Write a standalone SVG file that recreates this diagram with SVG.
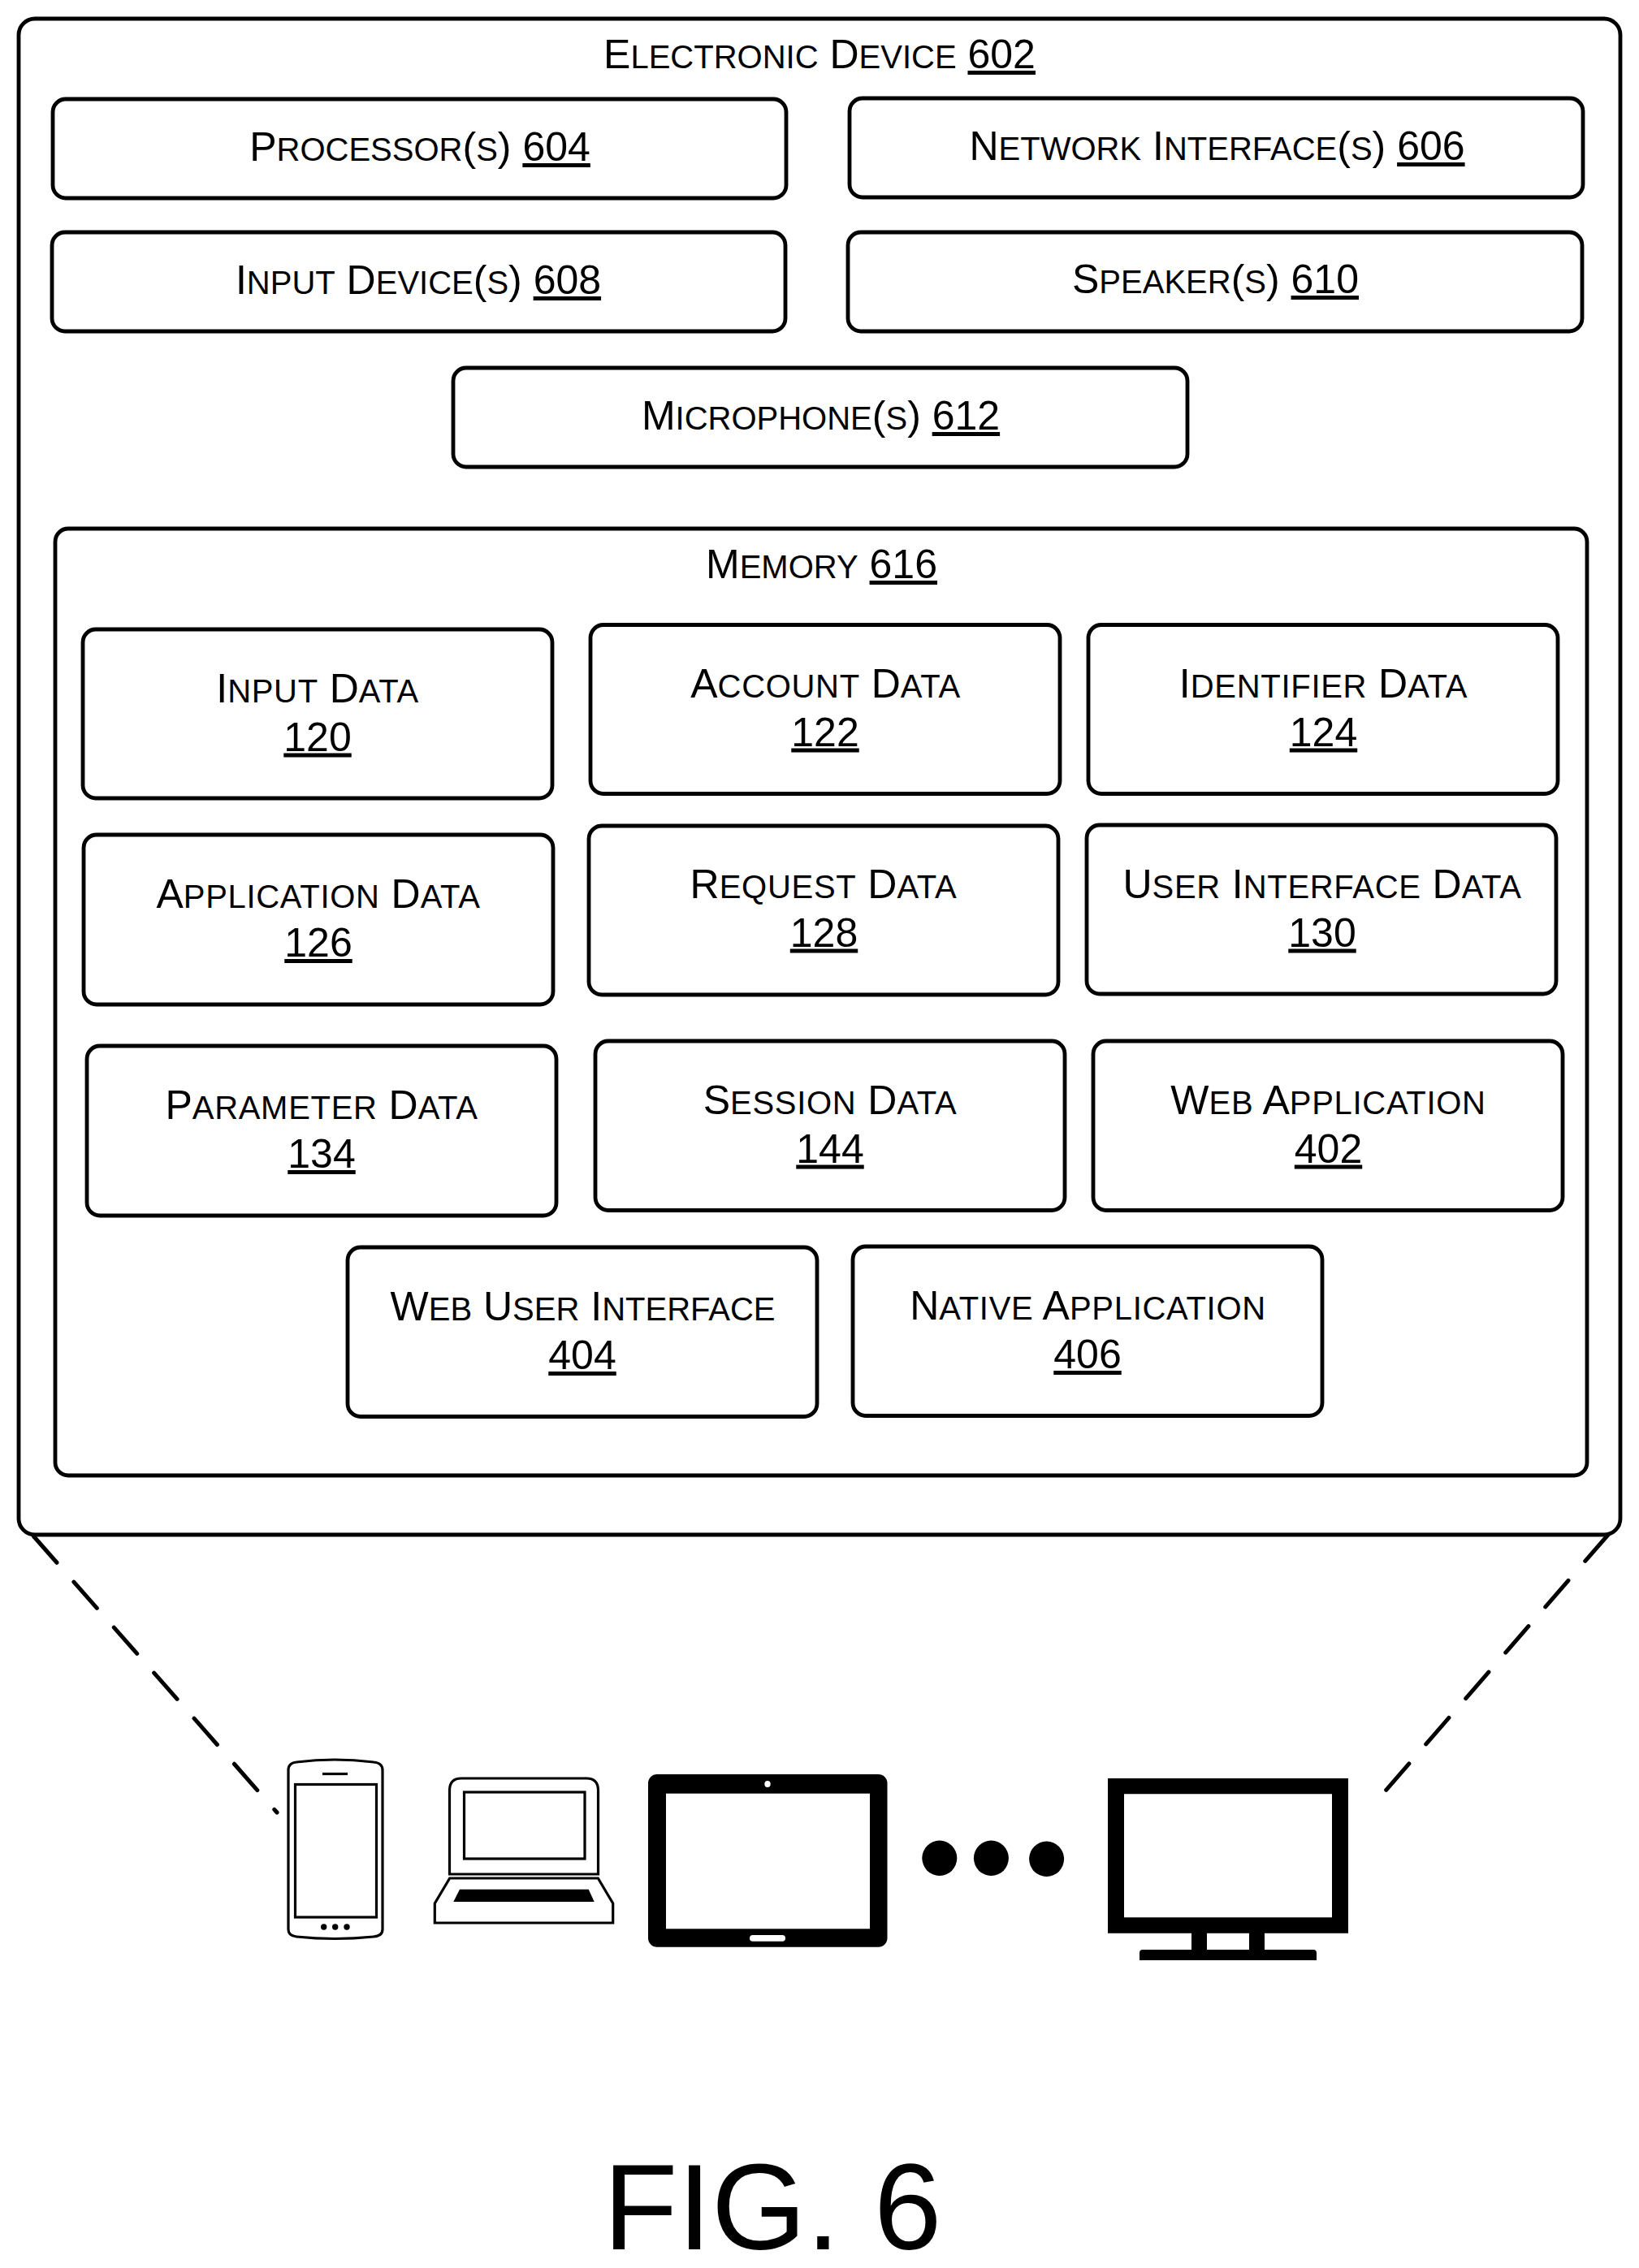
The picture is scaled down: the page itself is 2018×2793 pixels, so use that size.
<svg xmlns="http://www.w3.org/2000/svg" width="2018" height="2793" viewBox="0 0 2018 2793">
<style>
.b{fill:#fff;stroke:#000;stroke-width:4.8}
.l{fill:none;stroke:#000;stroke-width:3.2}
.k{fill:#000}
.w{fill:#fff}
text{font-family:"Liberation Sans",Arial,sans-serif;font-size:50px;fill:#000;text-anchor:middle}
.s{font-size:40px}
.t{font-size:40px;letter-spacing:.7px}
.u{text-decoration:underline}
.d{fill:none;stroke:#000;stroke-width:5;stroke-linecap:round;stroke-dasharray:43 31.7}
</style>
<rect width="2018" height="2793" fill="#fff"/>
<g id="electronic-device"><rect class="b" x="23" y="23" width="1972" height="1867" rx="20"/>
<text x="1009" y="84">E<tspan class="s">LECTRONIC</tspan> D<tspan class="s">EVICE</tspan> <tspan class="u">602</tspan></text></g>
<g id="processor"><rect class="b" x="65" y="122" width="903" height="122" rx="16"/>
<text x="517" y="198">P<tspan class="s">ROCESSOR</tspan>(<tspan class="s">S</tspan>) <tspan class="u">604</tspan></text></g>
<g id="network-interface"><rect class="b" x="1046" y="121" width="903" height="122" rx="16"/>
<text x="1498.500" y="197">N<tspan class="s">ETWORK</tspan> I<tspan class="s">NTERFACE</tspan>(<tspan class="s">S</tspan>) <tspan class="u">606</tspan></text></g>
<g id="input-device"><rect class="b" x="64" y="286" width="903" height="122" rx="16"/>
<text x="515" y="362">I<tspan class="s">NPUT</tspan> D<tspan class="s">EVICE</tspan>(<tspan class="s">S</tspan>) <tspan class="u">608</tspan></text></g>
<g id="speaker"><rect class="b" x="1044" y="286" width="904" height="122" rx="16"/>
<text x="1496.500" y="361">S<tspan class="s">PEAKER</tspan>(<tspan class="s">S</tspan>) <tspan class="u">610</tspan></text></g>
<g id="microphone"><rect class="b" x="558" y="453" width="904" height="122" rx="16"/>
<text x="1010.500" y="529">M<tspan class="s">ICROPHONE</tspan>(<tspan class="s">S</tspan>) <tspan class="u">612</tspan></text></g>
<g id="memory"><rect class="b" x="68" y="651" width="1886" height="1166" rx="16"/>
<text x="1011.500" y="712">M<tspan class="s">EMORY</tspan> <tspan class="u">616</tspan></text></g>
<g id="input-data"><rect class="b" x="102" y="775" width="578" height="208" rx="16"/>
<text x="391" y="864.500">I<tspan class="t">NPUT</tspan> D<tspan class="t">ATA</tspan></text><text x="391" y="924.500" class="u">120</text></g>
<g id="account-data"><rect class="b" x="727" y="769.500" width="578" height="208" rx="16"/>
<text x="1016.500" y="858.500">A<tspan class="t">CCOUNT</tspan> D<tspan class="t">ATA</tspan></text><text x="1016" y="918.500" class="u">122</text></g>
<g id="identifier-data"><rect class="b" x="1340" y="769.500" width="578" height="208" rx="16"/>
<text x="1629.500" y="858.500">I<tspan class="t">DENTIFIER</tspan> D<tspan class="t">ATA</tspan></text><text x="1629.500" y="918.500" class="u">124</text></g>
<g id="application-data"><rect class="b" x="103" y="1028" width="578" height="209" rx="16"/>
<text x="392" y="1118">A<tspan class="t">PPLICATION</tspan> D<tspan class="t">ATA</tspan></text><text x="392" y="1178" class="u">126</text></g>
<g id="request-data"><rect class="b" x="725" y="1017" width="578" height="208" rx="16"/>
<text x="1014" y="1105.500">R<tspan class="t">EQUEST</tspan> D<tspan class="t">ATA</tspan></text><text x="1014.500" y="1165.500" class="u">128</text></g>
<g id="user-interface-data"><rect class="b" x="1338" y="1016" width="578" height="208" rx="16"/>
<text x="1628" y="1105.500">U<tspan class="t">SER</tspan> I<tspan class="t">NTERFACE</tspan> D<tspan class="t">ATA</tspan></text><text x="1628" y="1165.500" class="u">130</text></g>
<g id="parameter-data"><rect class="b" x="107" y="1288" width="578" height="209" rx="16"/>
<text x="396" y="1378">P<tspan class="t">ARAMETER</tspan> D<tspan class="t">ATA</tspan></text><text x="396" y="1438" class="u">134</text></g>
<g id="session-data"><rect class="b" x="733" y="1282" width="578" height="208.500" rx="16"/>
<text x="1022" y="1371.500">S<tspan class="t">ESSION</tspan> D<tspan class="t">ATA</tspan></text><text x="1022" y="1431.500" class="u">144</text></g>
<g id="web-application"><rect class="b" x="1346" y="1282" width="578" height="208.500" rx="16"/>
<text x="1635.500" y="1371.500">W<tspan class="t">EB</tspan> A<tspan class="t">PPLICATION</tspan></text><text x="1635.500" y="1431.500" class="u">402</text></g>
<g id="web-user-interface"><rect class="b" x="428" y="1536" width="578" height="208.500" rx="16"/>
<text x="717.500" y="1626">W<tspan class="s">EB</tspan> U<tspan class="s">SER</tspan> I<tspan class="s">NTERFACE</tspan></text><text x="717" y="1686" class="u">404</text></g>
<g id="native-application"><rect class="b" x="1050" y="1535" width="578" height="208.500" rx="16"/>
<text x="1339.500" y="1625">N<tspan class="t">ATIVE</tspan> A<tspan class="t">PPLICATION</tspan></text><text x="1339" y="1685" class="u">406</text></g>
<g id="connectors">
<line class="d" x1="41.5" y1="1892" x2="341" y2="2232"/>
<line class="d" x1="1980" y1="1890" x2="1706.5" y2="2204.5"/>
</g>
<g id="phone">
<path class="l" d="M355 2180Q355 2171 365 2170Q412 2164 460 2170Q471 2171 471 2180V2376Q471 2384 460 2385Q412 2390 365 2385Q355 2384 355 2376Z"/>
<rect class="l" x="363.500" y="2197.500" width="100" height="163.500"/>
<line class="l" x1="397" y1="2184.500" x2="428" y2="2184.500"/>
<circle class="k" cx="398.700" cy="2373" r="3.700"/><circle class="k" cx="412.700" cy="2373" r="3.700"/><circle class="k" cx="427" cy="2373" r="3.700"/>
</g>
<g id="laptop">
<path class="l" d="M553.500 2308V2205Q553.500 2190 568 2190H722Q736.500 2190 736.500 2205V2308Z"/>
<rect class="l" x="571.500" y="2207" width="148.500" height="82"/>
<path class="l" d="M553.700 2313H736.300L754.700 2344V2368H535.300V2344Z"/>
<path class="k" d="M566 2326.700H724.700L731.700 2342H558.300Z"/>
</g>
<g id="tablet">
<rect class="k" x="798" y="2185" width="294.500" height="212.700" rx="11"/>
<rect class="w" x="820" y="2208.700" width="251" height="166.600"/>
<ellipse class="w" cx="945" cy="2197" rx="3.700" ry="4"/>
<rect class="w" x="923" y="2383" width="44" height="7.700" rx="3.800"/>
</g>
<g id="ellipsis">
<ellipse class="k" cx="1156.800" cy="2288.300" rx="21.500" ry="21.700"/>
<ellipse class="k" cx="1220.400" cy="2288.300" rx="21.500" ry="21.700"/>
<ellipse class="k" cx="1288.600" cy="2289.300" rx="21.500" ry="21.700"/>
</g>
<g id="monitor">
<path class="k" fill-rule="evenodd" d="M1364 2190H1660V2380.700H1557V2401H1617Q1621 2401 1621 2405V2414H1403V2405Q1403 2401 1407 2401H1467V2380.700H1364ZM1384 2209.300V2361.300H1640V2209.300ZM1486 2380.700V2401H1538V2380.700Z"/>
</g>
<g id="figure-label"><text x="951" y="2770" style="font-size:150px">FIG. 6</text></g>
</svg>
